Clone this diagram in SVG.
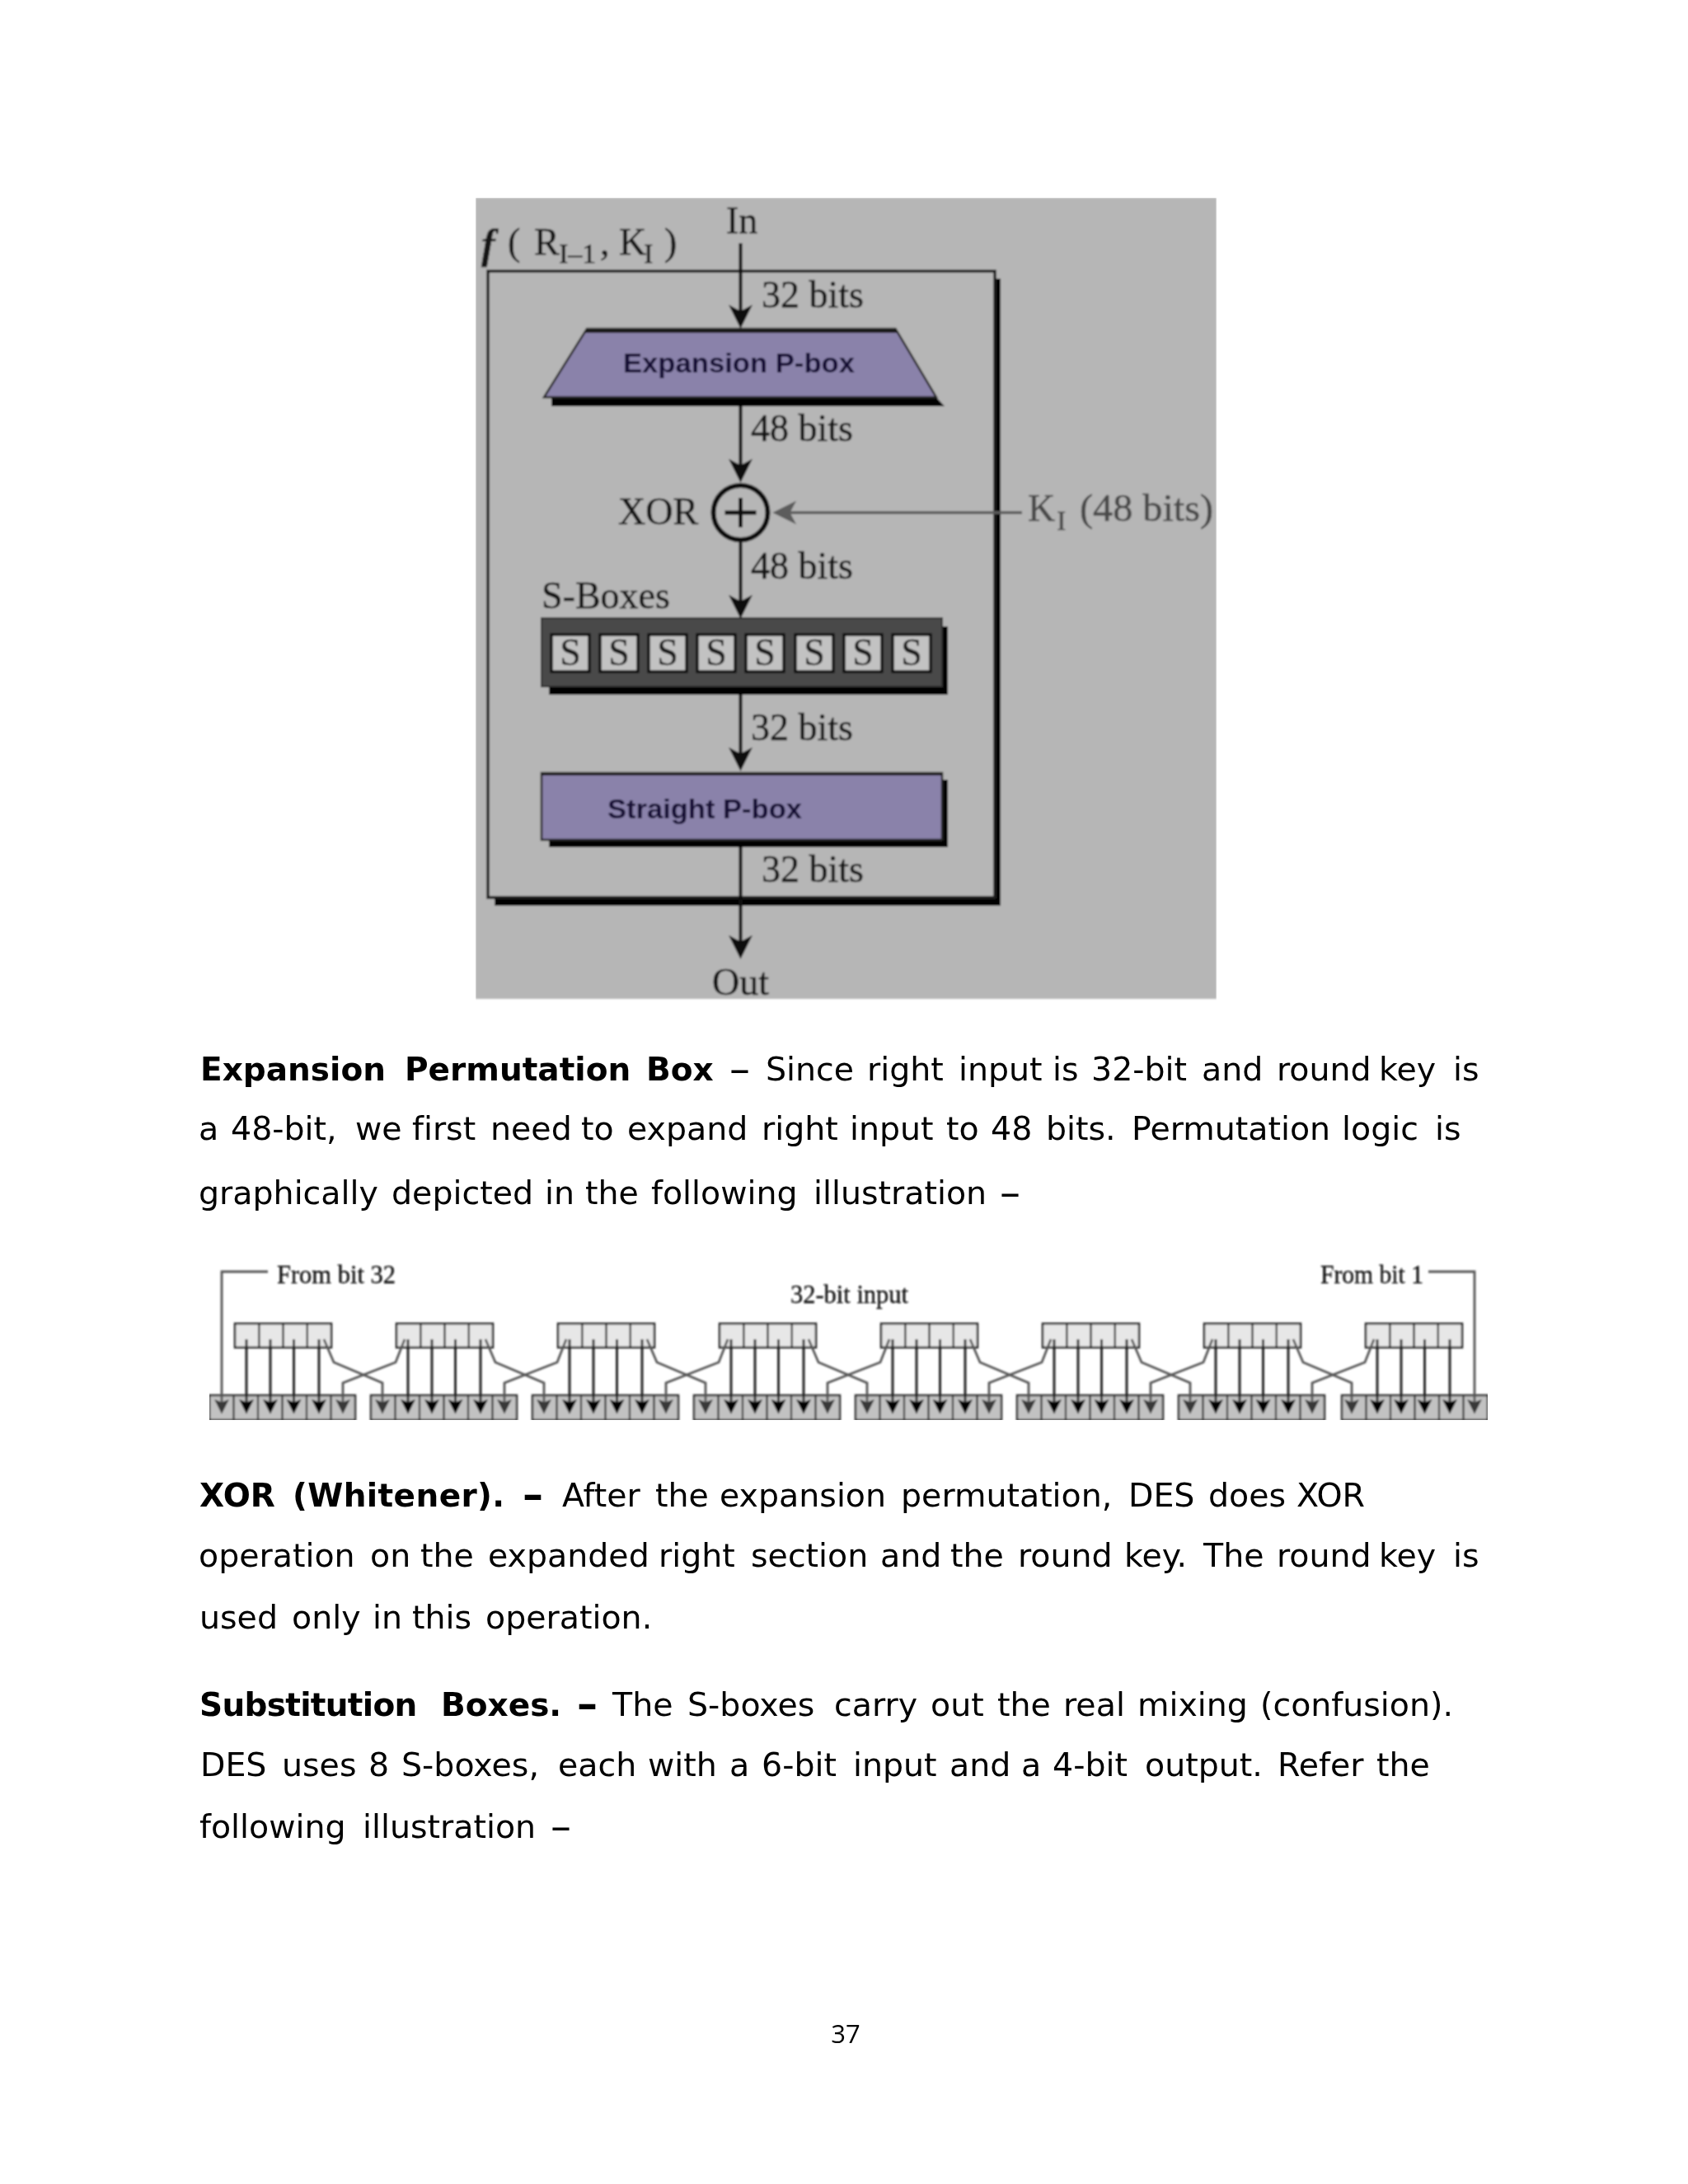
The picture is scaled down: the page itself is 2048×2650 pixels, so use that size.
<svg xmlns="http://www.w3.org/2000/svg" width="2048" height="2650" viewBox="0 0 2048 2650">
<style>
.body{font-family:"DejaVu Sans",Verdana,sans-serif;font-size:39.500px;fill:#000;font-variant-ligatures:none}
.b{font-weight:700;font-size:39px}
.d{font-size:50px}
.t{font-family:"Liberation Serif","Times New Roman",serif;font-size:46px;fill:#141414;stroke:#141414;stroke-width:.5}
.sub{font-size:34px}
.s{font-family:"Liberation Serif","Times New Roman",serif;font-size:46px;fill:#1c1c1c;stroke:#1c1c1c;stroke-width:.4;text-anchor:middle}
.sm{font-family:"Liberation Serif","Times New Roman",serif;font-size:31px;fill:#111;stroke:#111;stroke-width:.35}
.lb{font-family:"Liberation Sans",Arial,sans-serif;font-size:33px;font-weight:700;fill:#120e36}
.main{stroke:#0c0c0c;stroke-width:4;fill:none;marker-end:url(#big)}
.shadow{fill:#050505}
.purple{fill:#8a82aa;stroke:#222;stroke-width:2.500}
.cellS{fill:#c2c2c2;stroke:#111;stroke-width:3.500}
.vd{stroke:#1c1c1c;stroke-width:2.800;fill:none;marker-end:url(#smd)}
.vg{stroke:#555;stroke-width:2.800;fill:none;marker-end:url(#smg)}
.in{fill:#e7e7e7;stroke:#222;stroke-width:2.500}
.out{fill:#c2c2c2;stroke:#333;stroke-width:2.500}
</style>
<defs>
<marker id="big" markerUnits="userSpaceOnUse" markerWidth="29" markerHeight="29" viewBox="0 0 26 26" refX="20" refY="13" orient="auto"><path d="M0 0L26 13L0 26L7 13z" fill="#0c0c0c"/></marker>
<marker id="gry" markerUnits="userSpaceOnUse" markerWidth="29" markerHeight="29" viewBox="0 0 26 26" refX="20" refY="13" orient="auto"><path d="M0 0L26 13L0 26L7 13z" fill="#5c5c5c"/></marker>
<marker id="smd" markerUnits="userSpaceOnUse" markerWidth="18" markerHeight="18" viewBox="0 0 15 15" refX="11" refY="7.500" orient="auto"><path d="M0 0L15 7.500L0 15L3 7.500z" fill="#050505"/></marker>
<marker id="smg" markerUnits="userSpaceOnUse" markerWidth="18" markerHeight="18" viewBox="0 0 15 15" refX="11" refY="7.500" orient="auto"><path d="M0 0L15 7.500L0 15L3 7.500z" fill="#383838"/></marker>
<filter id="soft" x="0" y="0" width="100%" height="100%"><feGaussianBlur stdDeviation="0.9"/></filter>
<g id="inBox"><rect class="in" x="285" y="1606" width="117" height="29"/><path d="M314.300 1606V1635M343.500 1606V1635M372.800 1606V1635" stroke="#222" stroke-width="2.200" fill="none"/></g>
<g id="outBox"><rect class="out" x="254" y="1693" width="177" height="30"/><path d="M283.500 1693V1723M313 1693V1723M342.500 1693V1723M372 1693V1723M401.500 1693V1723" stroke="#333" stroke-width="2.200" fill="none"/></g>
<g id="verts"><path class="vd" d="M299 1625V1711"/><path class="vd" d="M328 1625V1711"/><path class="vd" d="M356.500 1625V1711"/><path class="vd" d="M387 1625V1711"/></g>
<g id="cross"><path class="vg" d="M393 1625L405 1653L464 1678V1711"/><path class="vg" d="M491 1625L480 1653L416 1678V1711"/></g>
</defs>
<rect id="page" width="2048" height="2650" fill="#fff"/>

<g id="figure-f" filter="url(#soft)">
<rect id="figure-bg" x="577" y="240" width="899" height="972" fill="#b6b6b6"/>
<g id="f-box">
<path class="shadow" d="M1207 338H1214V1099H600V1089H1207z"/>
<rect x="592" y="329" width="615" height="760" fill="none" stroke="#1c1c1c" stroke-width="3.500"/>
</g>
<g id="expansion-pbox">
<path class="shadow" d="M669 482H1136L1146 493H669z"/>
<path class="purple" d="M712 399H1086.500L1136 482H660z"/>
<path d="M712 398H1086.500L1090 404H709z" fill="#1a1a1a"/>
<text class="lb" x="756" y="452" textLength="281" lengthAdjust="spacingAndGlyphs">Expansion P-box</text>
</g>
<g id="xor">
<circle cx="898.500" cy="622" r="33" fill="none" stroke="#0c0c0c" stroke-width="6"/>
<path d="M879.500 622H917.500M898.500 604V640" stroke="#0c0c0c" stroke-width="5" fill="none"/>
</g>
<g id="s-boxes">
<path class="shadow" d="M666 760H1150V843H666z"/>
<rect x="657" y="750" width="486" height="83" fill="#4a4a4a" stroke="#2a2a2a" stroke-width="2"/>
<g id="s1"><rect class="cellS" x="669" y="770" width="46" height="45"/><text class="s" x="692" y="807">S</text></g>
<g id="s2"><rect class="cellS" x="728" y="770" width="46" height="45"/><text class="s" x="751" y="807">S</text></g>
<g id="s3"><rect class="cellS" x="787" y="770" width="46" height="45"/><text class="s" x="810" y="807">S</text></g>
<g id="s4"><rect class="cellS" x="846" y="770" width="46" height="45"/><text class="s" x="869" y="807">S</text></g>
<g id="s5"><rect class="cellS" x="905" y="770" width="46" height="45"/><text class="s" x="928" y="807">S</text></g>
<g id="s6"><rect class="cellS" x="965" y="770" width="46" height="45"/><text class="s" x="988" y="807">S</text></g>
<g id="s7"><rect class="cellS" x="1024" y="770" width="46" height="45"/><text class="s" x="1047" y="807">S</text></g>
<g id="s8"><rect class="cellS" x="1083" y="770" width="46" height="45"/><text class="s" x="1106" y="807">S</text></g>
</g>
<g id="straight-pbox">
<path class="shadow" d="M666 946H1150V1028H666z"/>
<rect class="purple" x="657" y="938" width="486" height="81"/>
<rect x="657" y="937" width="486" height="4" fill="#1a1a1a"/>
<text class="lb" x="737" y="993" textLength="236" lengthAdjust="spacingAndGlyphs">Straight P-box</text>
</g>
<g id="f-connectors">
<path class="main" d="M898.500 295V392"/>
<path class="main" d="M898.500 493V579"/>
<path class="main" d="M898.500 658V744"/>
<path class="main" d="M898.500 843V929"/>
<path class="main" d="M898.500 1028V1157"/>
<path d="M1240 622H944" stroke="#5c5c5c" stroke-width="3.500" fill="none" marker-end="url(#gry)"/>
</g>
<g id="f-labels">
<text class="t" x="881" y="283">In</text>
<text class="t" y="309"><tspan x="584" font-style="italic" font-weight="700" font-size="50" y="313">f</tspan><tspan x="616" y="309">(</tspan><tspan x="648">R</tspan><tspan class="sub" x="678" y="319">I–1</tspan><tspan x="728" y="309">,</tspan><tspan x="751">K</tspan><tspan class="sub" x="781" y="319">I</tspan><tspan x="806" y="309">)</tspan></text>
<text class="t" x="924" y="373">32 bits</text>
<text class="t" x="911" y="535">48 bits</text>
<text class="t" x="750" y="636">XOR</text>
<text class="t" style="fill:#484848;stroke:#484848" x="1247" y="632">K</text>
<text class="t sub" style="fill:#484848;stroke:#484848" x="1282" y="643">I</text>
<text class="t" style="fill:#484848;stroke:#484848" x="1310" y="632" textLength="162" lengthAdjust="spacingAndGlyphs">(48 bits)</text>
<text class="t" x="911" y="702">48 bits</text>
<text class="t" x="657" y="738">S-Boxes</text>
<text class="t" x="911" y="898">32 bits</text>
<text class="t" x="924" y="1070">32 bits</text>
<text class="t" x="864" y="1207">Out</text>
</g>
</g>

<g id="figure-expansion" filter="url(#soft)">
<g id="output-boxes">
<use href="#outBox"/><use href="#outBox" x="196"/><use href="#outBox" x="392"/><use href="#outBox" x="588"/><use href="#outBox" x="784"/><use href="#outBox" x="980"/><use href="#outBox" x="1176"/><use href="#outBox" x="1374"/>
</g>
<g id="input-boxes">
<use href="#inBox"/><use href="#inBox" x="196"/><use href="#inBox" x="392"/><use href="#inBox" x="588"/><use href="#inBox" x="784"/><use href="#inBox" x="980"/><use href="#inBox" x="1176"/><use href="#inBox" x="1372"/>
</g>
<g id="expansion-connectors">
<use href="#verts"/><use href="#verts" x="196"/><use href="#verts" x="392"/><use href="#verts" x="588"/><use href="#verts" x="784"/><use href="#verts" x="980"/><use href="#verts" x="1176"/><use href="#verts" x="1372"/>
<use href="#cross"/><use href="#cross" x="196"/><use href="#cross" x="392"/><use href="#cross" x="588"/><use href="#cross" x="784"/><use href="#cross" x="980"/><use href="#cross" x="1176"/>
<path class="vg" d="M325 1543H269V1711"/>
<path class="vg" d="M1733 1543H1789V1711"/>
</g>
<g id="expansion-labels">
<text class="sm" x="336" y="1557" textLength="144" lengthAdjust="spacingAndGlyphs">From bit 32</text>
<text class="sm" x="959" y="1581" textLength="143" lengthAdjust="spacingAndGlyphs">32-bit input</text>
<text class="sm" x="1602" y="1557" textLength="125" lengthAdjust="spacingAndGlyphs">From bit 1</text>
</g>
</g>

<g id="text-body">
<text class="body" y="1311"><tspan class="b" x="243">Expansion</tspan><tspan class="b" x="491">Permutation</tspan><tspan class="b" x="784">Box</tspan><tspan class="d" x="885" y="1314">–</tspan><tspan x="929" y="1311">Since</tspan><tspan x="1052">right</tspan><tspan x="1163">input</tspan><tspan x="1277">is</tspan><tspan x="1324">32-bit</tspan><tspan x="1458">and</tspan><tspan x="1549">round</tspan><tspan x="1673">key</tspan><tspan x="1763">is</tspan></text>
<text class="body" y="1383"><tspan x="241">a</tspan><tspan x="280">48-bit,</tspan><tspan x="431">we</tspan><tspan x="500">first</tspan><tspan x="595">need</tspan><tspan x="705">to</tspan><tspan x="761">expand</tspan><tspan x="924">right</tspan><tspan x="1031">input</tspan><tspan x="1148">to</tspan><tspan x="1202">48</tspan><tspan x="1269">bits.</tspan><tspan x="1373">Permutation</tspan><tspan x="1628">logic</tspan><tspan x="1741">is</tspan></text>
<text class="body" y="1461"><tspan x="241">graphically</tspan><tspan x="475">depicted</tspan><tspan x="661">in</tspan><tspan x="710">the</tspan><tspan x="790">following</tspan><tspan x="987">illustration</tspan><tspan class="d" x="1213" y="1464">–</tspan></text>
<text class="body" y="1828"><tspan class="b" x="242">XOR</tspan><tspan class="b" x="355" style="letter-spacing:.4px">(Whitener).</tspan><tspan class="b d" x="634" y="1831">–</tspan><tspan x="682" y="1828">After</tspan><tspan x="795">the</tspan><tspan x="873">expansion</tspan><tspan x="1093">permutation,</tspan><tspan x="1369">DES</tspan><tspan x="1466">does</tspan><tspan x="1573">XOR</tspan></text>
<text class="body" y="1901"><tspan x="241">operation</tspan><tspan x="449">on</tspan><tspan x="510">the</tspan><tspan x="592">expanded</tspan><tspan x="799">right</tspan><tspan x="911">section</tspan><tspan x="1068">and</tspan><tspan x="1153">the</tspan><tspan x="1235">round</tspan><tspan x="1364">key.</tspan><tspan x="1460">The</tspan><tspan x="1549">round</tspan><tspan x="1673">key</tspan><tspan x="1763">is</tspan></text>
<text class="body" y="1976"><tspan x="242">used</tspan><tspan x="354">only</tspan><tspan x="452">in</tspan><tspan x="500">this</tspan><tspan x="589">operation.</tspan></text>
<text class="body" y="2082"><tspan class="b" x="242" style="letter-spacing:-.7px">Substitution</tspan><tspan class="b" x="535">Boxes.</tspan><tspan class="b d" x="700" y="2085">–</tspan><tspan x="743" y="2082">The</tspan><tspan x="834">S-boxes</tspan><tspan x="1012">carry</tspan><tspan x="1129">out</tspan><tspan x="1210">the</tspan><tspan x="1290">real</tspan><tspan x="1380">mixing</tspan><tspan x="1529">(confusion).</tspan></text>
<text class="body" y="2155"><tspan x="243">DES</tspan><tspan x="342">uses</tspan><tspan x="447">8</tspan><tspan x="487">S-boxes,</tspan><tspan x="677">each</tspan><tspan x="786">with</tspan><tspan x="885">a</tspan><tspan x="924">6-bit</tspan><tspan x="1035">input</tspan><tspan x="1152">and</tspan><tspan x="1239">a</tspan><tspan x="1277">4-bit</tspan><tspan x="1389">output.</tspan><tspan x="1550">Refer</tspan><tspan x="1670">the</tspan></text>
<text class="body" y="2230"><tspan x="242">following</tspan><tspan x="440">illustration</tspan><tspan class="d" x="668" y="2233">–</tspan></text>
<text id="page-number" x="1026" y="2479" text-anchor="middle" style="font-family:'Open Sans','Noto Sans',sans-serif;font-size:31px;fill:#000">37</text>
</g>
</svg>
